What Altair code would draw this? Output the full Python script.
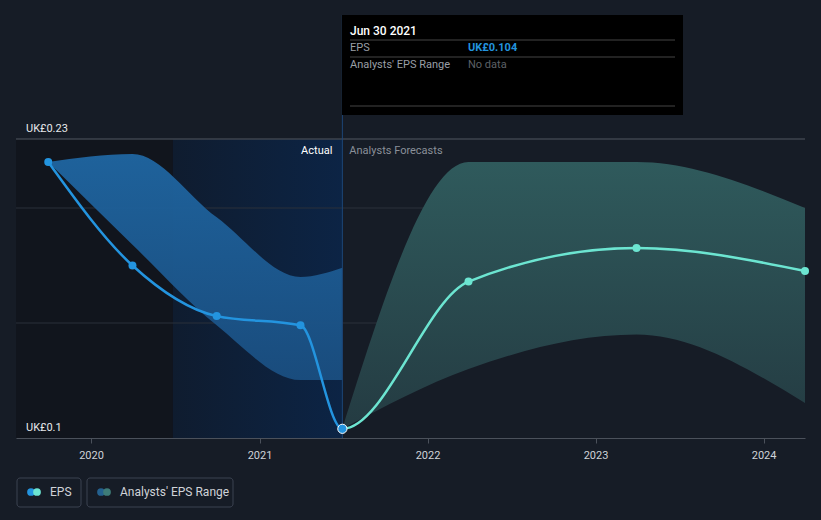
import altair as alt
import pandas as pd

# ---------------- data ----------------
actual_dates = ["2019-09-30", "2020-03-31", "2020-09-30", "2021-03-31", "2021-06-30"]
actual_eps = [0.220, 0.175, 0.153, 0.149, 0.104]
actual_low = [0.220, 0.184, 0.149, 0.1252, 0.1252]
actual_high = [0.220, 0.2235, 0.196, 0.170, 0.174]

fc_dates = ["2021-06-30", "2022-03-31", "2023-03-31", "2024-03-31"]
fc_eps = [0.104, 0.168, 0.1826, 0.1726]
fc_low = [0.104, 0.130, 0.145, 0.1152]
fc_high = [0.104, 0.220, 0.220, 0.200]

grid_values = [0.15, 0.20, 0.23]
y_labels = ["UK£0.23", "UK£0.1"]
y_label_values = [0.23, 0.10]
year_ticks = [2020, 2021, 2022, 2023, 2024]

x_domain = ["2019-07-22", "2024-03-31"]
y_domain = [0.10, 0.23]
past_start = "2019-07-22"
band_start = "2020-06-27"
today = "2021-06-30"

tooltip_date = "Jun 30 2021"
tooltip_value = actual_eps[-1]

BLUE = "#2394df"
TEAL = "#6ce5d1"
FONT = "Roboto"

# ---------------- helpers ----------------
xscale = alt.Scale(domain=x_domain)
yscale = alt.Scale(domain=y_domain, zero=False, nice=False)
xaxis = alt.Axis(
    values=[alt.DateTime(year=y, month=1, date=1) for y in year_ticks],
    format="%Y", grid=False, title=None,
    domainColor="#4b515b", domainWidth=1, tickColor="#4b515b", tickSize=5,
    labelColor="#cfd3d8", labelFontSize=11, labelPadding=6, labelFont=FONT,
)


def X(field):
    return alt.X(field, type="temporal", scale=xscale, axis=xaxis)


def Y(field):
    return alt.Y(field, type="quantitative", scale=yscale, axis=None)


actual_df = pd.DataFrame({"date": actual_dates, "eps": actual_eps,
                          "low": actual_low, "high": actual_high})
fc_df = pd.DataFrame({"date": fc_dates, "eps": fc_eps, "low": fc_low, "high": fc_high})
last_df = pd.DataFrame({"date": [actual_dates[-1]], "eps": [actual_eps[-1]]})
one = pd.DataFrame({"a": [0]})

# full EPS series (actual + forecast) drawn as one monotone curve
full_dates = actual_dates + fc_dates[1:]
full_eps = actual_eps + fc_eps[1:]
full_df = pd.DataFrame({"date": full_dates, "eps": full_eps})
t = pd.to_datetime(full_dates)
split = (pd.Timestamp(today) - t.min()) / (t.max() - t.min())

# background bands
past_band = alt.Chart(pd.DataFrame({"date": [past_start], "end": [band_start]})).mark_rect(
    color="#11151d").encode(x=X("date"), x2="end:T", y=alt.value(0), y2=alt.value(299))
blue_band = alt.Chart(pd.DataFrame({"date": [band_start], "end": [today]})).mark_rect(
    color=alt.Gradient(gradient="linear",
                       stops=[alt.GradientStop(color="#0f1c2f", offset=0),
                              alt.GradientStop(color="#0c2445", offset=1)],
                       x1=0, x2=1, y1=0, y2=0)
).encode(x=X("date"), x2="end:T", y=alt.value(0), y2=alt.value(299))

grid = alt.Chart(pd.DataFrame({"v": grid_values})).mark_rule(color="#2b313b", strokeWidth=1).encode(
    y=Y("v"), x=alt.value(0), x2=alt.value(789))
top_grid = alt.Chart(pd.DataFrame({"v": [grid_values[-1]]})).mark_rule(color="#474d57", strokeWidth=1).encode(
    y=Y("v"), x=alt.value(0), x2=alt.value(789))

actual_area = alt.Chart(actual_df).mark_area(
    interpolate="monotone", opacity=0.95,
    color=alt.Gradient(gradient="linear",
                       stops=[alt.GradientStop(color="#1f66a2", offset=0),
                              alt.GradientStop(color="#1a4e80", offset=1)],
                       x1=0, x2=0, y1=0, y2=1)
).encode(x=X("date"), y=Y("low"), y2="high")

fc_area = alt.Chart(fc_df).mark_area(
    interpolate="monotone",
    color=alt.Gradient(gradient="linear",
                       stops=[alt.GradientStop(color="#2f5a5c", offset=0),
                              alt.GradientStop(color="#243b42", offset=1)],
                       x1=0, x2=0, y1=0, y2=1)
).encode(x=X("date"), y=Y("low"), y2="high")

today_rule = alt.Chart(pd.DataFrame({"date": [today]})).mark_rule(color="#1c4677", strokeWidth=1).encode(
    x=X("date"), y=alt.value(-124), y2=alt.value(299))

eps_line = alt.Chart(full_df).mark_line(
    interpolate="monotone", strokeWidth=2.5,
    color=alt.Gradient(gradient="linear",
                       stops=[alt.GradientStop(color=BLUE, offset=0),
                              alt.GradientStop(color=BLUE, offset=float(split)),
                              alt.GradientStop(color=TEAL, offset=float(split)),
                              alt.GradientStop(color=TEAL, offset=1)],
                       x1=0, x2=1, y1=0, y2=0)
).encode(x=X("date"), y=Y("eps"))

fc_pts = alt.Chart(fc_df.iloc[1:]).mark_point(filled=True, color=TEAL, size=64, opacity=1).encode(
    x=X("date"), y=Y("eps"))
actual_pts = alt.Chart(actual_df.iloc[:-1]).mark_point(filled=True, color=BLUE, size=64, opacity=1).encode(
    x=X("date"), y=Y("eps"))
last_pt = alt.Chart(last_df).mark_point(filled=True, color=BLUE, size=85, opacity=1,
                                        stroke="#ffffff", strokeWidth=1).encode(x=X("date"), y=Y("eps"))

# y labels
ylab = alt.Chart(pd.DataFrame({"v": y_label_values, "t": y_labels})).mark_text(
    align="left", baseline="bottom", dy=-5, color="#e6e8eb", fontSize=11, font=FONT).encode(
    x=alt.value(10), y=Y("v"), text="t:N")

# Actual / Forecast labels
lab_df = pd.DataFrame({"date": [today]})
actual_lab = alt.Chart(lab_df).mark_text(align="right", baseline="middle", dx=-10, color="#ffffff",
                                         fontSize=11, font=FONT).encode(
    x=X("date"), y=alt.value(12), text=alt.value("Actual"))
fc_lab = alt.Chart(lab_df).mark_text(align="left", baseline="middle", dx=7, color="#8a9099",
                                     fontSize=11, font=FONT).encode(
    x=X("date"), y=alt.value(12), text=alt.value("Analysts Forecasts"))

# tooltip box
tip_box = alt.Chart(one).mark_rect(color="#000000").encode(
    x=alt.value(326), x2=alt.value(667), y=alt.value(-124), y2=alt.value(-24))
tip_lines = alt.Chart(pd.DataFrame({"yy": [-99, -82, -33]})).mark_rule(color="#444444").encode(
    x=alt.value(334), x2=alt.value(659), y=alt.Y("yy:Q", scale=None, axis=None))
tip_title = alt.Chart(one).mark_text(align="left", baseline="middle", color="#ffffff", fontSize=12,
                                     font=FONT, fontWeight=500).encode(
    x=alt.value(334), y=alt.value(-108), text=alt.value(tooltip_date))
tip_eps = alt.Chart(one).mark_text(align="left", baseline="middle", color="#9a9fa6", fontSize=11,
                                   font=FONT).encode(x=alt.value(334), y=alt.value(-91), text=alt.value("EPS"))
tip_eps_v = alt.Chart(one).mark_text(align="left", baseline="middle", color=BLUE, fontSize=11,
                                     font=FONT, fontWeight="bold").encode(
    x=alt.value(452), y=alt.value(-91), text=alt.value(f"UK£{tooltip_value:.3f}"))
tip_rng = alt.Chart(one).mark_text(align="left", baseline="middle", color="#9a9fa6", fontSize=11,
                                   font=FONT).encode(x=alt.value(334), y=alt.value(-74),
                                                     text=alt.value("Analysts' EPS Range"))
tip_rng_v = alt.Chart(one).mark_text(align="left", baseline="middle", color="#5d6167", fontSize=11,
                                     font=FONT).encode(x=alt.value(452), y=alt.value(-74),
                                                       text=alt.value("No data"))

# legend
leg_boxes = alt.Chart(pd.DataFrame({"x1": [1, 71], "x2": [65, 217]})).mark_rect(
    fill="#161c26", stroke="#3b4250", strokeWidth=1, cornerRadius=3).encode(
    x=alt.X("x1:Q", scale=None, axis=None), x2="x2:Q", y=alt.value(339), y2=alt.value(368))
leg_dots = alt.Chart(pd.DataFrame({"px": [15, 21, 85, 91],
                                   "c": [BLUE, TEAL, "#24618f", "#3e7c78"]})).mark_point(
    filled=True, size=60, opacity=1).encode(
    x=alt.X("px:Q", scale=None, axis=None), y=alt.value(353), color=alt.Color("c:N", scale=None))
leg_text = alt.Chart(pd.DataFrame({"px": [34, 104], "t": ["EPS", "Analysts' EPS Range"]})).mark_text(
    align="left", baseline="middle", color="#d0d3d8", fontSize=12, font=FONT).encode(
    x=alt.X("px:Q", scale=None, axis=None), y=alt.value(353), text="t:N")

chart = alt.layer(
    past_band, blue_band, grid, top_grid, actual_area, fc_area, today_rule,
    eps_line, fc_pts, actual_pts, last_pt, ylab, actual_lab, fc_lab,
    tip_box, tip_lines, tip_title, tip_eps, tip_eps_v, tip_rng, tip_rng_v,
    leg_boxes, leg_dots, leg_text,
).properties(
    width=789, height=299,
    padding={"left": 16, "top": 139, "right": 16, "bottom": 82},
    autosize=alt.AutoSizeParams(type="none"),
    background="#161c26",
).configure_view(strokeWidth=0)

chart.save("out.html", embed_options={"renderer": "svg", "actions": False})
